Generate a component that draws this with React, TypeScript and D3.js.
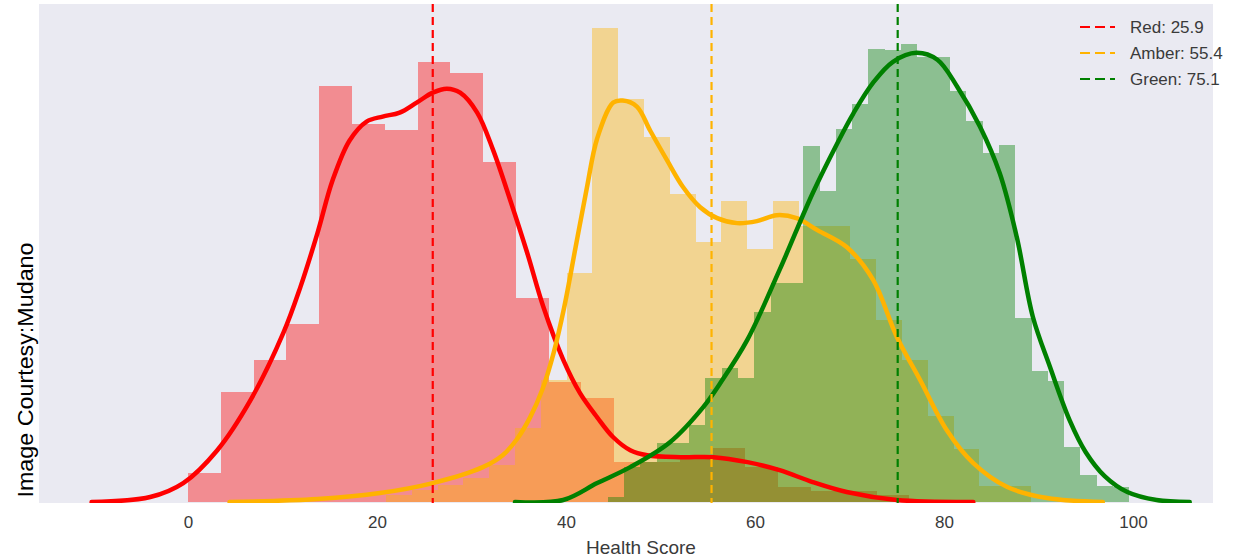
import React, { useRef, useEffect } from 'react'
import * as d3 from 'd3'

// histogram bins, density x1000
const redBinStart = 0.0
const redBinWidth = 3.47
const redHist = [2.9, 11.0, 14.3, 17.9, 41.8, 38.0, 37.3, 44.2, 43.1, 34.1, 20.5, 12.0, 10.4, 4.0, 4.0, 4.7, 5.4, 3.5, 1.5, 1.1, 1.1, 0.7]

const amberBinStart = 20.95
const amberBinWidth = 2.73
const amberHist = [0.7, 1.2, 1.7, 2.4, 3.7, 7.4, 12.2, 23.0, 47.6, 40.5, 36.6, 30.9, 26.1, 30.2, 25.4, 30.2, 27.7, 27.7, 24.4, 18.3, 14.3, 8.6, 5.3, 1.6, 1.6]

const greenBinStart = 44.41
const greenBinWidth = 1.725
const greenHist = [0.5, 3.5, 4.0, 5.9, 5.9, 7.7, 12.4, 13.5, 12.4, 19.1, 22.0, 22.0, 35.7, 31.2, 37.4, 40.0, 45.5, 45.4, 46.0, 44.7, 44.7, 41.3, 38.3, 35.0, 35.8, 18.5, 13.2, 12.1, 5.5, 2.7, 1.6, 1.5]

// kde curves: [health score, density x1000]
const redKde: [number, number][] = [
    [-10.2, 0], [-4.0, 0.5], [-0.5, 1.9], [3.1, 5.2], [6.6, 10.2], [10.1, 17.0], [11.9, 21.6],
    [13.7, 27.0], [15.3, 32.3], [17.1, 36.3], [18.9, 38.2], [20.6, 38.7], [22.4, 39.1], [24.2, 40.1],
    [25.9, 41.1], [27.4, 41.5], [28.8, 41.1], [30.6, 39.1], [32.3, 35.3], [34.1, 30.3], [35.9, 25.0],
    [37.6, 19.6], [39.7, 14.3], [41.5, 10.9], [43.3, 8.5], [45.0, 6.5], [46.8, 5.2], [48.6, 4.7],
    [52.1, 4.5], [55.6, 4.5], [59.2, 4.0], [62.6, 3.2], [66.1, 2.0], [69.7, 1.0], [75.0, 0.2], [83.1, 0]
]
const amberKde: [number, number][] = [
    [4.4, 0], [13.7, 0.3], [20.3, 0.9], [25.9, 1.9], [31.2, 3.5], [33.3, 4.7], [34.8, 6.3], [36.2, 8.5],
    [37.5, 11.3], [38.7, 15.0], [39.8, 19.5], [41.0, 25.5], [42.2, 31.5], [43.3, 36.5], [45.0, 40.1], [46.0, 40.3],
    [47.5, 39.7], [48.9, 37.3], [50.7, 34.3], [52.4, 31.6], [54.2, 29.6], [56.0, 28.5], [58.1, 28.0],
    [60.2, 28.2], [62.3, 28.8], [64.4, 28.5], [66.6, 27.3], [69.7, 25.6], [72.5, 22.3], [75.0, 16.6],
    [77.5, 12.2], [80.3, 7.2], [83.1, 3.9], [86.7, 1.5], [90.9, 0.4], [96.8, 0]
]
const greenKde: [number, number][] = [
    [34.6, 0], [39.7, 0.2], [43.3, 1.9], [46.8, 3.5], [51.0, 6.0], [54.5, 9.5], [56.3, 11.9], [59.2, 16.3],
    [62.6, 23.3], [66.1, 31.0], [68.7, 36.0], [70.4, 39.0], [72.5, 42.1], [74.6, 44.2], [77.1, 45.1],
    [79.3, 44.4], [81.4, 41.7], [83.8, 37.7], [85.9, 33.0], [87.7, 26.6], [89.4, 18.6], [91.2, 13.6],
    [93.3, 8.2], [95.0, 5.0], [97.0, 2.6], [99.4, 1.0], [102.5, 0.2], [106.0, 0]
]

const seriesNames = ['Red', 'Amber', 'Green']
const means = [25.9, 55.4, 75.1]
const colors = ['#ff0000', '#ffb300', '#008000']
const xTicks = [0, 20, 40, 60, 80, 100]

const App = () => {
    const ref = useRef<SVGSVGElement>(null)
    useEffect(() => {
        const w = 1244
        const h = 558
        const left = 39, right = 1213, top = 4, bottom = 503
        const svg = d3.select(ref.current)
        svg.selectAll('*').remove()
        svg.attr('width', w).attr('height', h).style('background', 'white')

        const x = d3.scaleLinear().domain([0, 100]).range([188, 1133])
        const y = d3.scaleLinear().domain([0, 50]).range([502, 4])

        svg.append('rect')
            .attr('x', left).attr('y', top)
            .attr('width', right - left).attr('height', bottom - top)
            .attr('fill', '#eaeaf2')

        svg.append('clipPath').attr('id', 'plot-clip')
            .append('rect')
            .attr('x', left).attr('y', top)
            .attr('width', right - left).attr('height', bottom - top)

        const plot = svg.append('g').attr('clip-path', 'url(#plot-clip)')

        // histograms, alpha 0.4 like seaborn distplot
        const hists = [
            { start: redBinStart, width: redBinWidth, values: redHist },
            { start: amberBinStart, width: amberBinWidth, values: amberHist },
            { start: greenBinStart, width: greenBinWidth, values: greenHist },
        ]
        hists.forEach((hs, k) => {
            plot.append('g')
                .selectAll('rect')
                .data(hs.values)
                .join('rect')
                .attr('x', (d, i) => x(hs.start + i * hs.width))
                .attr('width', (d, i) => x(hs.start + (i + 1) * hs.width) - x(hs.start + i * hs.width))
                .attr('y', d => y(d))
                .attr('height', d => y(0) - y(d))
                .attr('fill', colors[k])
                .attr('fill-opacity', 0.4)
                .attr('shape-rendering', 'crispEdges')
        })

        // kde lines
        const line = d3.line<[number, number]>()
            .x(d => x(d[0]))
            .y(d => y(d[1]))
            .curve(d3.curveCatmullRom.alpha(0.5))
        ;[redKde, amberKde, greenKde].forEach((kde, k) => {
            plot.append('path')
                .attr('d', line(kde))
                .attr('fill', 'none')
                .attr('stroke', colors[k])
                .attr('stroke-width', 4.5)
                .attr('stroke-linecap', 'round')
                .attr('stroke-linejoin', 'round')
        })

        // mean lines
        plot.selectAll('.mean-line')
            .data(means)
            .join('line')
            .attr('class', 'mean-line')
            .attr('x1', d => x(d)).attr('x2', d => x(d))
            .attr('y1', top).attr('y2', bottom)
            .attr('stroke', (d, i) => colors[i])
            .attr('stroke-width', 2.2)
            .attr('stroke-dasharray', '8,5')

        // x axis, no tick marks
        const xAxis = d3.axisBottom(x)
            .tickValues(xTicks)
            .tickSize(0)
            .tickPadding(13)
        const ax = svg.append('g')
            .attr('transform', `translate(0, ${bottom})`)
            .call(xAxis)
        ax.select('.domain').remove()
        ax.selectAll('text')
            .style('font-family', '"Liberation Sans", Arial, sans-serif')
            .style('font-size', '17px')
            .style('fill', '#3a3a3a')

        svg.append('text')
            .attr('x', 641).attr('y', 554)
            .attr('text-anchor', 'middle')
            .style('font-family', '"Liberation Sans", Arial, sans-serif')
            .style('font-size', '19px')
            .style('fill', '#3a3a3a')
            .text('Health Score')

        // legend
        const legend = svg.append('g')
        seriesNames.forEach((name, i) => {
            const ly = 27 + i * 26
            legend.append('line')
                .attr('x1', 1080).attr('x2', 1115)
                .attr('y1', ly).attr('y2', ly)
                .attr('stroke', colors[i])
                .attr('stroke-width', 2.2)
                .attr('stroke-dasharray', '10,5')
            legend.append('text')
                .attr('x', 1130).attr('y', ly)
                .attr('dy', '0.35em')
                .style('font-family', '"Liberation Sans", Arial, sans-serif')
                .style('font-size', '17px')
                .style('fill', '#3a3a3a')
                .text(`${name}: ${means[i]}`)
        })

        // overlaid credit
        svg.append('text')
            .attr('transform', 'translate(33, 370) rotate(-90)')
            .attr('text-anchor', 'middle')
            .attr('textLength', 255)
            .attr('lengthAdjust', 'spacingAndGlyphs')
            .style('font-family', '"Liberation Sans", Arial, sans-serif')
            .style('font-size', '22px')
            .style('fill', '#000')
            .text('Image Courtesy:Mudano')
    }, [])
    return (
        <div style={{ position: 'absolute', left: 0, top: 0 }}>
            <svg ref={ref} style={{ display: 'block' }}></svg>
        </div>
    )
}

export default App
